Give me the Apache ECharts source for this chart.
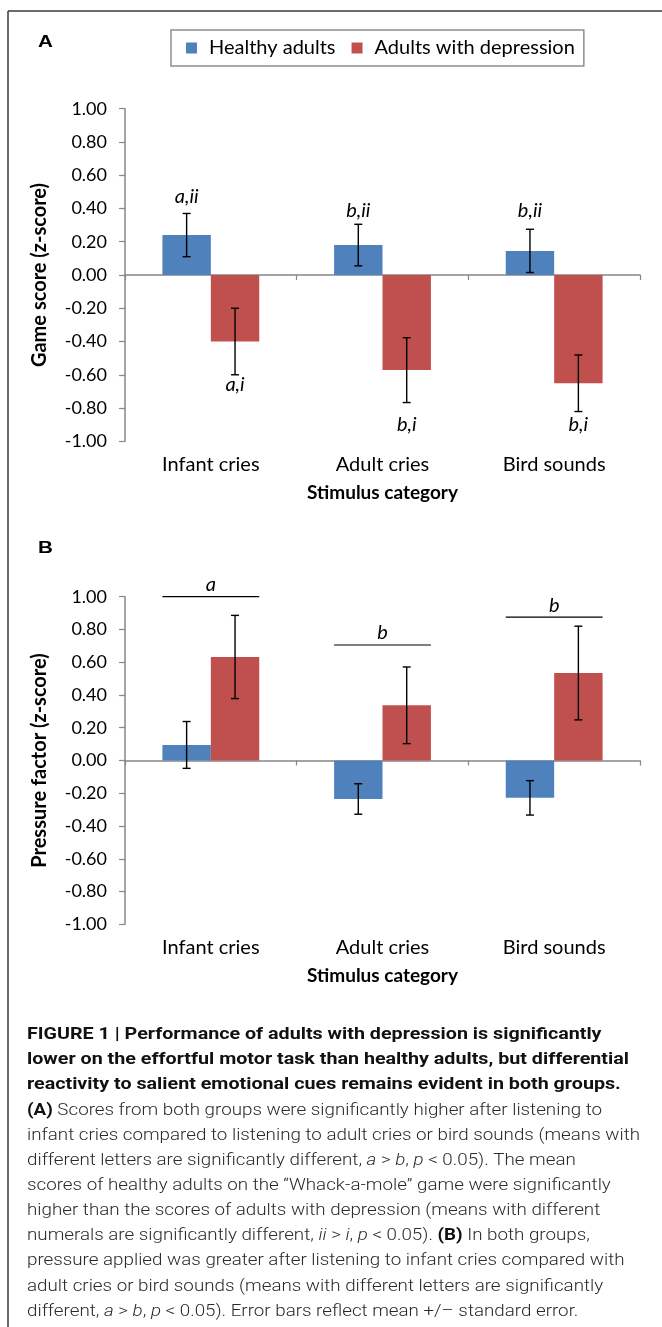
<!DOCTYPE html>
<html><head><meta charset="utf-8">
<script src="https://cdn.jsdelivr.net/npm/echarts@6/dist/echarts.min.js"></script>
<style>html,body{margin:0;padding:0;background:#fff}#c{width:662px;height:1327px}</style>
</head><body><div id="c"></div>
<script>
// ---------- DATA ----------
const categories = ['Infant cries', 'Adult cries', 'Bird sounds'];
const seriesNames = ['Healthy adults', 'Adults with depression'];
const yMin = -1, yMax = 1, yStep = 0.2;

// Panel A: Game score (z-score)
const gameHealthy = [0.24, 0.18, 0.145];
const gameHealthySE = [0.13, 0.125, 0.13];
const gameDepressed = [-0.40, -0.572, -0.651];
const gameDepressedSE = [0.20, 0.195, 0.17];
const gameHealthyLetters = ['a,ii', 'b,ii', 'b,ii'];
const gameHealthyLetterLevel = [0.47, 0.39, 0.39];
const gameDepressedLetters = ['a,i', 'b,i', 'b,i'];
const gameDepressedLetterLevel = [-0.66, -0.90, -0.90];

// Panel B: Pressure factor (z-score)
const pressHealthy = [0.095, -0.235, -0.228];
const pressHealthySE = [0.143, 0.093, 0.105];
const pressDepressed = [0.632, 0.337, 0.534];
const pressDepressedSE = [0.254, 0.234, 0.286];
const pressLetters = ['a', 'b', 'b'];
const pressLetterLevel = [1.00, 0.705, 0.875];

const captionLines = [
  {bold: true, t: 'FIGURE 1 | Performance of adults with depression is significantly'},
  {bold: true, t: 'lower on the effortful motor task than healthy adults, but differential'},
  {bold: true, t: 'reactivity to salient emotional cues remains evident in both groups.'},
  {t: '{b|(A)} Scores from both groups were significantly higher after listening to'},
  {t: 'infant cries compared to listening to adult cries or bird sounds (means with'},
  {t: 'different letters are significantly different, {i|a} > {i|b}, {i|p} < 0.05). The mean'},
  {t: 'scores of healthy adults on the \u201CWhack-a-mole\u201D game were significantly'},
  {t: 'higher than the scores of adults with depression (means with different'},
  {t: 'numerals are significantly different, {i|ii} > {i|i}, {i|p} < 0.05). {b|(B)} In both groups,'},
  {t: 'pressure applied was greater after listening to infant cries compared with'},
  {t: 'adult cries or bird sounds (means with different letters are significantly'},
  {t: 'different, {i|a} > {i|b}, {i|p} < 0.05). Error bars reflect mean +/\u2013 standard error.'}
];

// ---------- STYLE ----------
const BLUE = '#4F81BD', RED = '#C0504D', AXIS = '#878787';
const FONT = 'Lato';
const BAR_FRAC = 0.282;
const CAP_FS = 16.4;

function errorSeries(means, ses, side, gi) {
  return {
    type: 'custom', xAxisIndex: gi * 2, yAxisIndex: gi, z: 10,
    data: means.map((m, i) => [i, m - ses[i], m + ses[i]]),
    encode: {x: 0, y: [1, 2]},
    renderItem(params, api) {
      const band = api.size([1, 0])[0];
      const dx = side * band * BAR_FRAC / 2;
      const lo = api.coord([api.value(0), api.value(1)]);
      const hi = api.coord([api.value(0), api.value(2)]);
      const x = lo[0] + dx, c = 4;
      const st = {stroke: '#000', lineWidth: 1.4};
      return {type: 'group', children: [
        {type: 'line', shape: {x1: x, y1: lo[1], x2: x, y2: hi[1]}, style: st},
        {type: 'line', shape: {x1: x - c, y1: lo[1], x2: x + c, y2: lo[1]}, style: st},
        {type: 'line', shape: {x1: x - c, y1: hi[1], x2: x + c, y2: hi[1]}, style: st}
      ]};
    }
  };
}
function letterSeries(texts, levels, side, gi) {
  return {
    type: 'custom', xAxisIndex: gi * 2, yAxisIndex: gi, z: 11,
    data: levels.map((v, i) => [i, v]),
    renderItem(params, api) {
      const band = api.size([1, 0])[0];
      const p = api.coord([api.value(0), api.value(1)]);
      return {type: 'text', x: p[0] + side * band * BAR_FRAC / 2, y: p[1],
        style: {text: texts[params.dataIndex], fontFamily: FONT, fontStyle: 'italic', fontSize: 20,
          fill: '#000', align: 'center', verticalAlign: 'middle'}};
    }
  };
}
function sigSeries(texts, levels, gi) {
  return {
    type: 'custom', xAxisIndex: gi * 2, yAxisIndex: gi, z: 11,
    data: levels.map((v, i) => [i, v]),
    renderItem(params, api) {
      const band = api.size([1, 0])[0];
      const p = api.coord([api.value(0), api.value(1)]);
      const hw = band * BAR_FRAC;
      return {type: 'group', children: [
        {type: 'line', shape: {x1: p[0] - hw, y1: p[1], x2: p[0] + hw, y2: p[1]}, style: {stroke: '#000', lineWidth: 1.2}},
        {type: 'text', x: p[0], y: p[1] - 12, style: {text: texts[params.dataIndex], fontFamily: FONT,
          fontStyle: 'italic', fontSize: 20, fill: '#000', align: 'center', verticalAlign: 'middle'}}
      ]};
    }
  };
}
function yAxisFor(gi, name) {
  return {
    type: 'value', gridIndex: gi, min: yMin, max: yMax, interval: yStep,
    splitLine: {show: false},
    axisLine: {show: true, lineStyle: {color: AXIS, width: 1.5}},
    axisTick: {show: true, length: 6, lineStyle: {color: AXIS, width: 1.2}},
    axisLabel: {formatter: v => v.toFixed(2), fontSize: 18, fontFamily: FONT, color: '#000', margin: 18},
    name: name, nameLocation: 'middle', nameGap: 75, nameRotate: 90,
    nameTextStyle: {fontSize: 20, fontWeight: 'bold', fontFamily: FONT, color: '#000'}
  };
}
function xAxesFor(gi) {
  return [
    {type: 'category', gridIndex: gi, data: categories, position: 'bottom',
      axisLine: {onZero: true, lineStyle: {color: AXIS, width: 1.5}},
      axisTick: {show: true, length: 5, lineStyle: {color: AXIS, width: 1.2}},
      axisLabel: {show: false}},
    {type: 'category', gridIndex: gi, data: categories, position: 'bottom',
      axisLine: {show: false, onZero: false}, axisTick: {show: false},
      axisLabel: {fontSize: 20, fontFamily: FONT, color: '#000', margin: 13},
      name: 'Stimulus category', nameLocation: 'middle', nameGap: 42,
      nameTextStyle: {fontSize: 19, fontWeight: 'bold', fontFamily: FONT, color: '#000'}}
  ];
}
function barSeries(name, data, color, gi) {
  return {type: 'bar', name, data, xAxisIndex: gi * 2, yAxisIndex: gi,
    barWidth: (BAR_FRAC * 100) + '%', barGap: '0%', itemStyle: {color}, z: 2};
}

// caption layout
const meas = document.createElement('canvas').getContext('2d');
meas.font = '300 ' + CAP_FS + 'px Roboto';
const regScale = 613 / meas.measureText(captionLines[4].t).width;
meas.font = 'bold ' + CAP_FS + 'px Roboto';
const boldScale = 602 / meas.measureText(captionLines[1].t).width;
const captionGraphics = captionLines.map((ln, i) => ({
  type: 'text', x: 27, y: 1035 + i * 25.15, scaleX: ln.bold ? boldScale : regScale,
  style: {text: ln.t, fontFamily: 'Roboto', fontSize: CAP_FS, fontWeight: ln.bold ? 'bold' : 300,
    fill: ln.bold ? '#111' : '#2a2a2a', verticalAlign: 'middle', align: 'left',
    rich: {
      b: {fontFamily: 'Roboto', fontSize: CAP_FS, fontWeight: 'bold', fill: '#111'},
      i: {fontFamily: 'Roboto', fontSize: CAP_FS, fontWeight: 300, fontStyle: 'italic', fill: '#2a2a2a'}
    }}
}));

const chart = echarts.init(document.getElementById('c'), null, {renderer: 'canvas'});
chart.setOption({
  animation: false,
  backgroundColor: '#fff',
  color: [BLUE, RED],
  legend: {
    data: seriesNames, left: 171, top: 30, orient: 'horizontal',
    padding: [8, 9, 8, 15], itemGap: 16, itemWidth: 11, itemHeight: 11, icon: 'rect',
    borderColor: '#8f8f8f', borderWidth: 1.5,
    textStyle: {fontSize: 20, fontFamily: FONT, color: '#000', padding: [0, 0, 0, 7]}
  },
  grid: [
    {left: 125, right: 22, top: 108.7, height: 332.6},
    {left: 125, right: 22, top: 596.7, height: 327.6}
  ],
  xAxis: [...xAxesFor(0), ...xAxesFor(1)],
  yAxis: [yAxisFor(0, 'Game score (z-score)'), yAxisFor(1, 'Pressure factor (z-score)')],
  series: [
    barSeries(seriesNames[0], gameHealthy, BLUE, 0),
    barSeries(seriesNames[1], gameDepressed, RED, 0),
    errorSeries(gameHealthy, gameHealthySE, -1, 0),
    errorSeries(gameDepressed, gameDepressedSE, 1, 0),
    letterSeries(gameHealthyLetters, gameHealthyLetterLevel, -1, 0),
    letterSeries(gameDepressedLetters, gameDepressedLetterLevel, 1, 0),
    barSeries(seriesNames[0], pressHealthy, BLUE, 1),
    barSeries(seriesNames[1], pressDepressed, RED, 1),
    errorSeries(pressHealthy, pressHealthySE, -1, 1),
    errorSeries(pressDepressed, pressDepressedSE, 1, 1),
    sigSeries(pressLetters, pressLetterLevel, 1)
  ],
  graphic: [
    {type: 'line', shape: {x1: 8, y1: 11, x2: 662, y2: 11}, style: {stroke: '#3a3a3a', lineWidth: 1.5}},
    {type: 'line', shape: {x1: 8, y1: 11, x2: 8, y2: 1327}, style: {stroke: '#3a3a3a', lineWidth: 1.5}},
    {type: 'text', x: 38, y: 42.5, scaleX: 1.25, style: {text: 'A', fontFamily: 'Liberation Sans', fontWeight: 'bold', fontSize: 16.5, fill: '#000', align: 'left', verticalAlign: 'middle'}},
    {type: 'text', x: 38, y: 548, scaleX: 1.25, style: {text: 'B', fontFamily: 'Liberation Sans', fontWeight: 'bold', fontSize: 16.5, fill: '#000', align: 'left', verticalAlign: 'middle'}},
    ...captionGraphics
  ]
});
</script></body></html>
